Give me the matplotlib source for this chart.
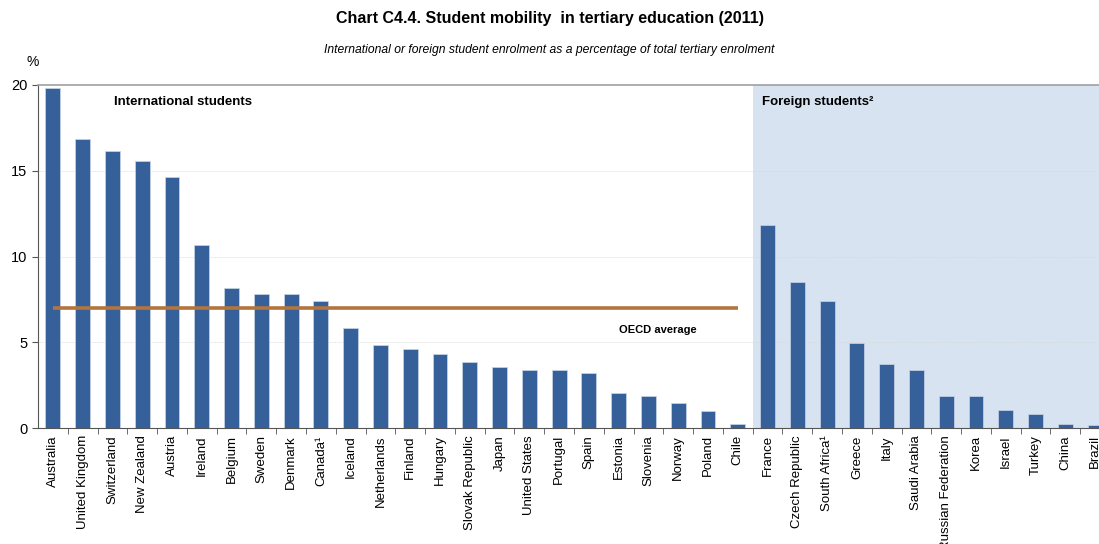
import numpy as np
import matplotlib.pyplot as plt

countries = ["Australia", "United Kingdom", "Switzerland", "New Zealand", "Austria",
             "Ireland", "Belgium", "Sweden", "Denmark", "Canada\u00b9", "Iceland",
             "Netherlands", "Finland", "Hungary", "Slovak Republic", "Japan",
             "United States", "Portugal", "Spain", "Estonia", "Slovenia", "Norway",
             "Poland", "Chile", "France", "Czech Republic", "South Africa\u00b9",
             "Greece", "Italy", "Saudi Arabia", "Russian Federation", "Korea",
             "Israel", "Turkey", "China", "Brazil"]
share = [19.8, 16.85, 16.15, 15.55, 14.65, 10.7, 8.15, 7.85, 7.8, 7.43, 5.82,
         4.88, 4.6, 4.32, 3.84, 3.57, 3.38, 3.38, 3.22, 2.04, 1.86, 1.46, 1.0, 0.25,
         11.85, 8.52, 7.4, 4.97, 3.73, 3.41, 1.9, 1.86, 1.08, 0.81, 0.27, 0.21]
n_international = 24
oecd_average = 7.0

bar_color = "#36609A"
shade_color = "#D7E3F1"

fig = plt.figure(figsize=(10.99, 5.44), dpi=100)
ax = fig.add_axes([0.0346, 0.2127, 0.9654, 0.6311])

x = np.arange(len(countries))
ax.axvspan(n_international - 0.5, len(countries), color=shade_color, zorder=0, lw=0)
ax.bar(x, share, width=0.5, color=bar_color, edgecolor="#C9D6E8", linewidth=0.5, zorder=3)

# OECD average over the international students group
ax.plot([0, n_international - 1], [oecd_average, oecd_average], color="#B4743D",
        lw=2.6, zorder=4, solid_capstyle="butt")
ax.text(20.3, 5.72, "OECD average", fontsize=8, fontweight="bold",
        family="Liberation Sans", ha="center", va="center", zorder=5)

ax.set_xlim(-0.5, 35.13)
ax.set_ylim(0, 20)
ax.set_yticks([0, 5, 10, 15, 20])
for v in [5, 10, 15]:
    ax.axhline(v, color="#DADADA", lw=0.6, ls=(0, (1, 1)), zorder=1)

ax.set_xticks(x)
ax.set_xticklabels(countries, rotation=90, fontsize=9.5, family="Liberation Sans")
ax.set_xticks(x[:-1] + 0.5, minor=True)
ax.tick_params(axis="x", which="major", length=0, pad=5)
ax.tick_params(axis="x", which="minor", length=4, direction="out", color="#555555")
ax.tick_params(axis="y", length=4, direction="out", color="#555555", labelsize=10.5)
for lab in ax.get_yticklabels():
    lab.set_family("Liberation Sans")

ax.spines["right"].set_visible(False)
ax.spines["top"].set_color("#A0A0A0")
ax.spines["top"].set_linewidth(1.2)
ax.spines["left"].set_color("#555555")
ax.spines["bottom"].set_color("#555555")

ax.text(2.05, 19.0, "International students", fontsize=9.5, fontweight="bold",
        family="Liberation Sans", va="center", ha="left")
ax.text(23.8, 19.0, "Foreign students\u00b2", fontsize=9.5, fontweight="bold",
        family="Liberation Sans", va="center", ha="left")

fig.text(0.5, 1 - 19 / 544, "Chart C4.4. Student mobility  in tertiary education (2011)",
         ha="center", va="center", fontsize=11.5, fontweight="bold",
         family=["Liberation Sans Narrow", "Liberation Sans"])
fig.text(0.5, 1 - 50 / 544,
         "International or foreign student enrolment as a percentage of total tertiary enrolment",
         ha="center", va="center", fontsize=8.7, style="italic",
         family=["Liberation Sans Narrow", "Liberation Sans"])
fig.text(33 / 1099, 1 - 62 / 544, "%", ha="center", va="center", fontsize=10,
         family="Liberation Sans")

fig.savefig("out.png", dpi=100)
